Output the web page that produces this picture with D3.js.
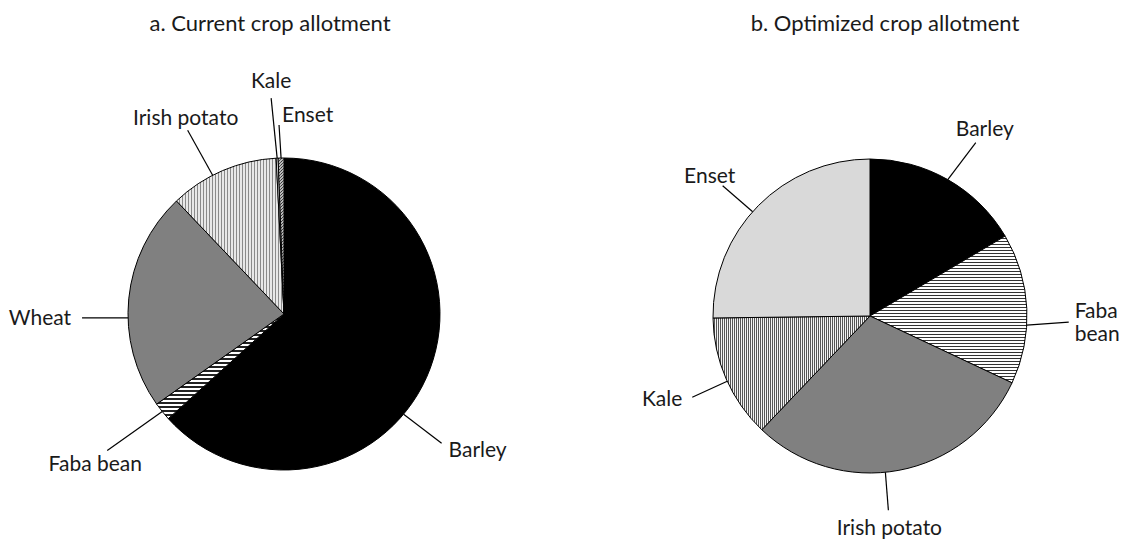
<!DOCTYPE html>
<html>
<head>
<meta charset="utf-8">
<script src="https://cdn.jsdelivr.net/npm/d3@7"></script>
<style>
  body { margin: 0; background: #fff; }
  svg text { font-family: Lato, "Open Sans", sans-serif; font-size: 21px; fill: #1a1a1a; }
  svg text.title { font-size: 22px; }
</style>
</head>
<body>
<svg width="1125" height="542"></svg>
<script>
// crop shares, percent of land
var cropsA = ["Barley", "Faba bean", "Wheat", "Irish potato", "Kale", "Enset"];
var shareA = [63.3, 1.9, 22.7, 11.3, 0.2, 0.6];

var cropsB = ["Barley", "Faba bean", "Irish potato", "Kale", "Enset"];
var shareB = [16.5, 15.5, 30.1, 12.7, 25.2];

var titles = ["a. Current crop allotment", "b. Optimized crop allotment"];

var svg = d3.select("svg");
var defs = svg.append("defs");

// hatch patterns, like the old excel fills
function stripes(id, w, h, bg, fg, horiz, lw) {
  var p = defs.append("pattern").attr("id", id)
    .attr("patternUnits", "userSpaceOnUse").attr("width", w).attr("height", h);
  p.append("rect").attr("width", w).attr("height", h).attr("fill", bg);
  if (horiz) p.append("rect").attr("width", w).attr("height", lw).attr("fill", fg);
  else p.append("rect").attr("width", lw).attr("height", h).attr("fill", fg);
}
stripes("hA", 4, 4, "#fff", "#222", true, 2);
stripes("hB", 4, 3, "#fff", "#333", true, 1);
stripes("vA", 3, 4, "#e8e8e8", "#8a8a8a", false, 1);
stripes("vB", 2, 4, "#f2f2f2", "#555", false, 1);

var dots = defs.append("pattern").attr("id", "dots")
  .attr("patternUnits", "userSpaceOnUse").attr("width", 3).attr("height", 3);
dots.append("rect").attr("width", 3).attr("height", 3).attr("fill", "#bbb");
dots.append("rect").attr("width", 1).attr("height", 1).attr("fill", "#333");
dots.append("rect").attr("x", 2).attr("y", 1).attr("width", 1).attr("height", 1).attr("fill", "#555");
dots.append("rect").attr("x", 1).attr("y", 2).attr("width", 1).attr("height", 1).attr("fill", "#444");

var fillsA = ["#000", "url(#hA)", "#808080", "url(#vA)", "#f4f4f4", "url(#dots)"];
var fillsB = ["#000", "url(#hB)", "#808080", "url(#vB)", "#d9d9d9"];

// label placement: shift of leader angle from slice middle (deg),
// leader end offset from the rim, text offset from leader end
var layoutA = {
  "Barley":       {rot: 16, end: [38, 29],  txt: [7, 7],    anchor: "start"},
  "Faba bean":    {rot: 0,  end: [-55, 39], txt: [-12, 13], anchor: "middle"},
  "Wheat":        {rot: -7, end: [-46, 0],  txt: [-11, 0],  anchor: "end"},
  "Irish potato": {rot: -4, end: [-25, -45], txt: [-2, -13], anchor: "middle"},
  "Kale":         {rot: 0,  end: [-6, -60], txt: [0, -18],  anchor: "middle"},
  "Enset":        {rot: 0,  end: [-2, -33], txt: [3, -10],  anchor: "start"}
};
var layoutB = {
  "Barley":       {rot: 0,  end: [28, -37], txt: [9, -14],  anchor: "middle"},
  "Faba bean":    {rot: 6,  end: [42, -3],  txt: [6, -11],  anchor: "start", wrap: true},
  "Irish potato": {rot: 5,  end: [3, 38],   txt: [1, 17],   anchor: "middle"},
  "Kale":         {rot: -1, end: [-35, 16], txt: [-10, 1],  anchor: "end"},
  "Enset":        {rot: -3, end: [-30, -26], txt: [-13, -10], anchor: "middle"}
};

function drawPie(cx, cy, r, crops, shares, fills, layout, title, tx) {
  var g = svg.append("g").attr("transform", "translate(" + cx + "," + cy + ")");
  var data = crops.map(function(c, i) { return {crop: c, value: shares[i], fill: fills[i]}; });

  var pie = d3.pie().sort(null).value(function(d) { return d.value; });
  var arc = d3.arc().innerRadius(0).outerRadius(r);
  var arcs = pie(data);

  g.selectAll("path.slice")
    .data(arcs)
    .enter().append("path")
      .attr("class", "slice")
      .attr("d", arc)
      .attr("fill", function(d) { return d.data.fill; })
      .attr("stroke", "#000")
      .attr("stroke-width", 1);

  arcs.forEach(function(d) {
    var L = layout[d.data.crop];
    var a = (d.startAngle + d.endAngle) / 2 + L.rot * Math.PI / 180;
    var x0 = r * Math.sin(a), y0 = -r * Math.cos(a);
    var x1 = x0 + L.end[0], y1 = y0 + L.end[1];
    g.append("line")
      .attr("x1", x0).attr("y1", y0).attr("x2", x1).attr("y2", y1)
      .attr("stroke", "#000").attr("stroke-width", 1.2);
    var t = g.append("text")
      .attr("x", x1 + L.txt[0]).attr("y", y1 + L.txt[1])
      .attr("dy", "0.35em")
      .attr("text-anchor", L.anchor);
    if (L.wrap) {
      var words = d.data.crop.split(" ");
      t.attr("dy", null);
      words.forEach(function(w, i) {
        t.append("tspan").attr("x", x1 + L.txt[0])
          .attr("dy", i == 0 ? "0.35em" : "1.1em").text(w);
      });
    } else {
      t.text(d.data.crop);
    }
  });

  svg.append("text")
    .attr("class", "title")
    .attr("x", tx).attr("y", 31)
    .attr("text-anchor", "middle")
    .text(title);
}

drawPie(284, 314, 156, cropsA, shareA, fillsA, layoutA, titles[0], 270);
drawPie(870, 316, 157, cropsB, shareB, fillsB, layoutB, titles[1], 885);
</script>
</body>
</html>
